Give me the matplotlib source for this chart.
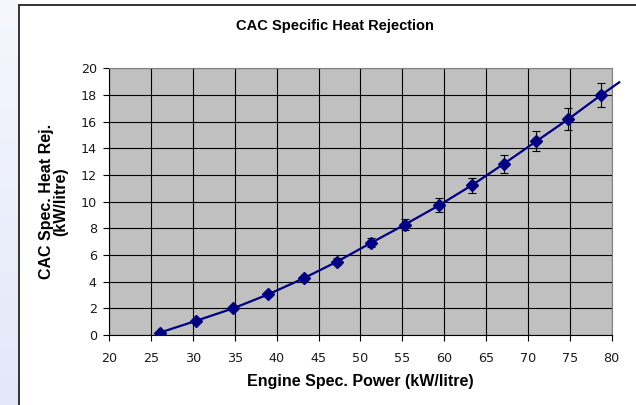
import numpy as np
import matplotlib.pyplot as plt
from matplotlib.colors import LinearSegmentedColormap
from matplotlib.lines import Line2D

# values
power = [26.0, 30.4, 34.8, 39.0, 43.2, 47.2, 51.3, 55.3, 59.4, 63.3, 67.1, 71.0, 74.8, 78.7]
heat_rej = [0.17, 1.07, 2.0, 3.05, 4.25, 5.5, 6.92, 8.28, 9.73, 11.23, 12.83, 14.53, 16.18, 17.98]
heat_err = [0.01, 0.05, 0.1, 0.15, 0.21, 0.28, 0.34, 0.39, 0.52, 0.56, 0.66, 0.74, 0.84, 0.9]
# the trend line runs a little past the last point, out of the plot area
trend_end = (80.9, 18.95)

x_ticks = list(range(20, 81, 5))
y_ticks = list(range(0, 21, 2))

navy = '#000080'

fig = plt.figure(figsize=(6.36, 4.05), dpi=100)
fig.patch.set_facecolor('white')

# light blue strip on the left side, with the chart frame
strip = fig.add_axes([0, 0, 18 / 636, 1])
strip_cmap = LinearSegmentedColormap.from_list('strip', ['#f5f7fd', '#e2e8f9'])
strip.imshow(np.linspace(0, 1, 100).reshape(-1, 1), aspect='auto', cmap=strip_cmap, extent=[0, 1, 0, 1], origin='upper')
strip.set_axis_off()
fig.add_artist(Line2D([18.5 / 636, 18.5 / 636], [0, 1 - 4.5 / 405], color='#333333', lw=1.4, transform=fig.transFigure))
fig.add_artist(Line2D([18.5 / 636, 1], [1 - 4.5 / 405, 1 - 4.5 / 405], color='#333333', lw=1.4, transform=fig.transFigure))

ax = fig.add_axes([109.3 / 636, 1 - 335 / 405, 502.4 / 636, 266.7 / 405])
ax.set_facecolor('#c0c0c0')
ax.set_xlim(20, 80)
ax.set_ylim(0, 20)
ax.set_xticks(x_ticks)
ax.set_yticks(y_ticks)
ax.grid(True, color='black', lw=0.8)
ax.set_axisbelow(True)
for side in ['top', 'right']:
    ax.spines[side].set_color('#808080')
for side in ['left', 'bottom']:
    ax.spines[side].set_color('black')
    ax.spines[side].set_linewidth(0.8)
ax.tick_params(direction='out', length=4, width=0.8, colors='black', labelsize=9.2)
ax.tick_params(axis='x', pad=8)
ax.tick_params(axis='y', pad=5)
for lbl in ax.get_xticklabels() + ax.get_yticklabels():
    lbl.set_color('#1a1a1a')
    lbl.set_family('DejaVu Sans')

ax.errorbar(power, heat_rej, yerr=heat_err, fmt='none', ecolor='black', elinewidth=0.8, capsize=2.8, capthick=0.8, zorder=3)
ax.plot(power + [trend_end[0]], heat_rej + [trend_end[1]], color=navy, lw=1.6, clip_on=False, zorder=4)
ax.plot(power, heat_rej, linestyle='none', marker='D', markersize=6, color=navy, zorder=5)

ax.set_xlabel('Engine Spec. Power (kW/litre)', family='Liberation Sans', weight='bold', fontsize=11.5, labelpad=7)
ax.set_ylabel('CAC Spec. Heat Rej.\n(kW/litre)', family='Liberation Sans', weight='bold', fontsize=11.5, labelpad=9, linespacing=0.95)
fig.text(335 / 636, 1 - 26 / 405, 'CAC Specific Heat Rejection', ha='center', va='center', family='Liberation Sans', weight='bold', fontsize=10.5)

fig.savefig('out.png', dpi=100)
